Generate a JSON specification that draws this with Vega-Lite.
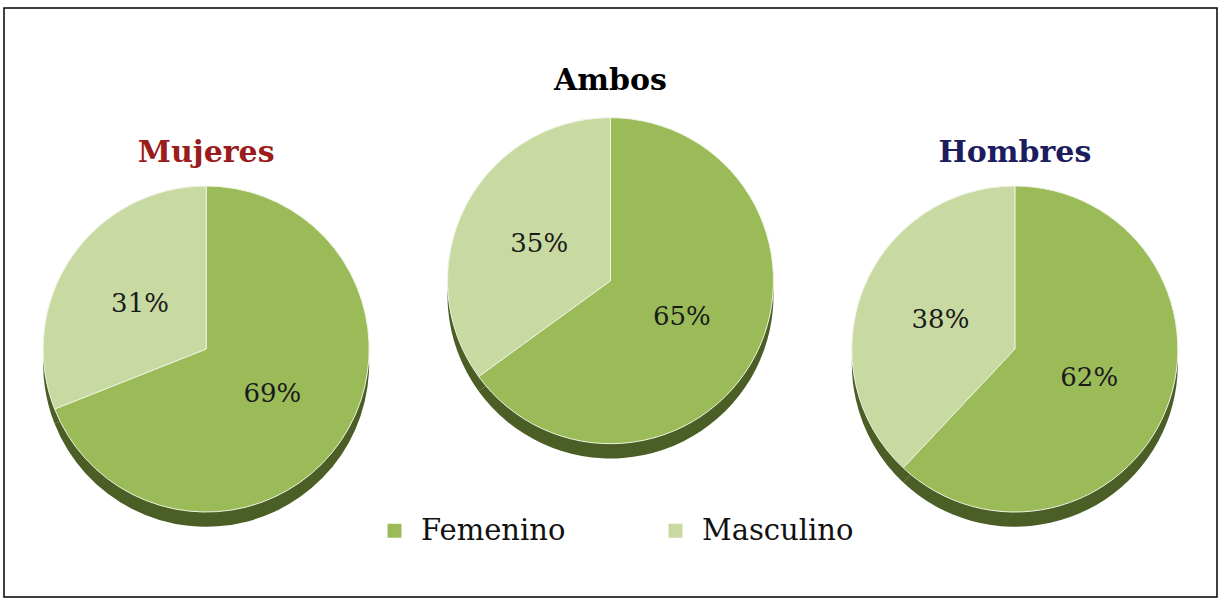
{
  "$schema": "https://vega.github.io/schema/vega-lite/v6.json",
  "width": 1220,
  "height": 600,
  "autosize": {"type": "fit", "contains": "padding"},
  "padding": {"left": 4, "top": 8, "right": 3, "bottom": 3},
  "background": "#ffffff",
  "config": {"view": {"stroke": "#000000", "strokeWidth": 1.5}},
  "data": {
    "values": [
      {"grupo": "Mujeres", "categoria": "Femenino", "valor": 0.69},
      {"grupo": "Mujeres", "categoria": "Masculino", "valor": 0.31},
      {"grupo": "Ambos", "categoria": "Femenino", "valor": 0.65},
      {"grupo": "Ambos", "categoria": "Masculino", "valor": 0.35},
      {"grupo": "Hombres", "categoria": "Femenino", "valor": 0.62},
      {"grupo": "Hombres", "categoria": "Masculino", "valor": 0.38}
    ]
  },
  "encoding": {
    "x": {"field": "grupo", "type": "nominal", "scale": {"type": "point", "domain": ["Mujeres", "Ambos", "Hombres"], "padding": 0.5}, "axis": null},
    "theta": {"field": "valor", "type": "quantitative", "stack": true, "scale": {"domain": [0, 1]}},
    "order": {"field": "categoria", "sort": "ascending"}
  },
  "layer": [
    {"transform": [{"filter": "datum.grupo === 'Mujeres'"}], "mark": {"type": "arc", "radius": 163, "y": {"expr": "height*0.604"}, "color": "#4a5e26"}},
    {"transform": [{"filter": "datum.grupo === 'Ambos'"}], "mark": {"type": "arc", "radius": 163, "y": {"expr": "height*0.488"}, "color": "#4a5e26"}},
    {"transform": [{"filter": "datum.grupo === 'Hombres'"}], "mark": {"type": "arc", "radius": 163, "y": {"expr": "height*0.604"}, "color": "#4a5e26"}},
    {"transform": [{"filter": "datum.grupo === 'Mujeres'"}], "mark": {"type": "arc", "radius": 163, "y": {"expr": "height*0.579"}, "stroke": "#eef4e2", "strokeWidth": 1},
     "encoding": {"color": {"field": "categoria", "type": "nominal", "scale": {"domain": ["Femenino", "Masculino"], "range": ["#9BBB59", "#C8DAA2"]},
       "legend": {"title": null, "orient": "none", "direction": "horizontal", "legendX": 376, "legendY": 508, "symbolType": "square", "symbolSize": 196, "symbolStrokeWidth": 0, "labelFont": "DejaVu Serif", "labelFontSize": 29, "labelColor": "#111111", "labelLimit": 400, "labelOffset": 12, "columnPadding": 95}}}},
    {"transform": [{"filter": "datum.grupo === 'Ambos'"}], "mark": {"type": "arc", "radius": 163, "y": {"expr": "height*0.463"}, "stroke": "#eef4e2", "strokeWidth": 1},
     "encoding": {"color": {"field": "categoria", "type": "nominal"}}},
    {"transform": [{"filter": "datum.grupo === 'Hombres'"}], "mark": {"type": "arc", "radius": 163, "y": {"expr": "height*0.579"}, "stroke": "#eef4e2", "strokeWidth": 1},
     "encoding": {"color": {"field": "categoria", "type": "nominal"}}},
    {"transform": [{"filter": "datum.grupo === 'Mujeres'"}], "mark": {"type": "text", "radius": 80, "y": {"expr": "height*0.579"}, "font": "DejaVu Serif", "fontSize": 26, "color": "#1a1a1a"},
     "encoding": {"detail": {"field": "categoria", "type": "nominal"}, "text": {"field": "valor", "type": "quantitative", "format": ".0%"}}},
    {"transform": [{"filter": "datum.grupo === 'Ambos'"}], "mark": {"type": "text", "radius": 80, "y": {"expr": "height*0.463"}, "font": "DejaVu Serif", "fontSize": 26, "color": "#1a1a1a"},
     "encoding": {"detail": {"field": "categoria", "type": "nominal"}, "text": {"field": "valor", "type": "quantitative", "format": ".0%"}}},
    {"transform": [{"filter": "datum.grupo === 'Hombres'"}], "mark": {"type": "text", "radius": 80, "y": {"expr": "height*0.579"}, "font": "DejaVu Serif", "fontSize": 26, "color": "#1a1a1a"},
     "encoding": {"detail": {"field": "categoria", "type": "nominal"}, "text": {"field": "valor", "type": "quantitative", "format": ".0%"}}},
    {"transform": [{"filter": "datum.categoria === 'Femenino' && datum.grupo !== 'Ambos'"}], "mark": {"type": "text", "y": {"expr": "height*0.2615"}, "baseline": "alphabetic", "font": "DejaVu Serif", "fontWeight": "bold", "fontSize": 30},
     "encoding": {"theta": null, "order": null, "text": {"field": "grupo", "type": "nominal"}, "color": {"condition": {"test": "datum.grupo === 'Mujeres'", "value": "#9B1C1C"}, "value": "#1C1C5E"}}},
    {"transform": [{"filter": "datum.categoria === 'Femenino' && datum.grupo === 'Ambos'"}], "mark": {"type": "text", "y": {"expr": "height*0.139"}, "baseline": "alphabetic", "font": "DejaVu Serif", "fontWeight": "bold", "fontSize": 30, "color": "#000000"},
     "encoding": {"theta": null, "order": null, "text": {"field": "grupo", "type": "nominal"}}}
  ]
}
